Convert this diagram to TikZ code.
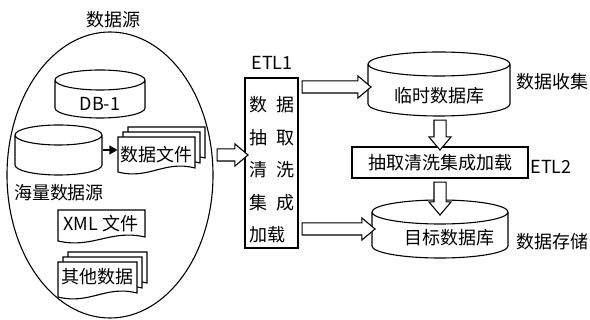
\documentclass[tikz,border=0pt]{standalone}
\usepackage{fontspec}
\setmainfont{Noto Sans CJK SC}
\usetikzlibrary{shapes.geometric,shapes.arrows,arrows.meta,calc}

\tikzset{
  txt/.style={font=\fontsize{18}{21}\selectfont, inner sep=0pt},
  box/.style={draw, inner sep=0pt},
  frame/.style={inner sep=0pt},
  fatarrow/.style={single arrow, draw, fill=white, inner xsep=0pt, inner ysep=5.5pt,
    minimum width=21pt, single arrow head extend=5pt, single arrow tip angle=80},
}

% cylinder: x1, x2, ytop, ybot, r (pixel values, y downwards)
\newcommand{\cyl}[5]{%
  \draw ({#1},{-(#3)-(#5)}) -- ({#1},{-(#4)+(#5)})
    arc[start angle=180,end angle=360,x radius={((#2)-(#1))/2},y radius={#5}]
    -- ({#2},{-(#3)-(#5)})
    arc[start angle=0,end angle=180,x radius={((#2)-(#1))/2},y radius={#5}]
    arc[start angle=180,end angle=360,x radius={((#2)-(#1))/2},y radius={#5}];}

% document sheet: x1, ytop, x2, ybot
\newcommand{\docshape}[4]{%
  \draw[fill=white] ({#1},{-(#2)}) -- ({#3},{-(#2)}) -- ({#3},{-(#4)+4})
    .. controls ({(#1)+0.6*((#3)-(#1))},{-(#4)+12}) and ({(#1)+0.4*((#3)-(#1))},{-(#4)-8}) ..
    ({#1},{-(#4)}) -- cycle;}
\newcommand{\docstack}[4]{%
  \docshape{#1+10}{#2-10}{#3+10}{#4-10}%
  \docshape{#1+5}{#2-5}{#3+5}{#4-5}%
  \docshape{#1}{#2}{#3}{#4}}

% hollow arrow between two points, rotated
\newcommand{\fatarr}[3]{%
  \path let \p1=#1, \p2=#2, \n1={veclen(\x2-\x1,\y2-\y1)} in
    node[fatarrow, minimum height=\n1, rotate=#3] at ({(\x1+\x2)/2},{(\y1+\y2)/2}) {};}

\begin{document}
\begin{tikzpicture}[x=1pt,y=1pt,line width=1.1pt]
\useasboundingbox (0,0) rectangle (590,-320);

% data sources
\node[txt] (srctitle) at (113,-20) {数据源};
\node[draw, ellipse, inner sep=0pt, minimum width=206pt, minimum height=286pt] (source) at (110,-175) {};

\cyl{55}{145}{70}{118}{10}
\node[txt] (db1) at (100,-104) {DB-1};

\cyl{15}{102}{125}{175}{10}
\node[frame, minimum width=87pt, minimum height=50pt] (bigdb) at (58.5,-150) {};

\docstack{118}{137}{195}{172}
\node[txt, minimum width=77pt] (datafile) at (156.5,-155) {数据文件};
\draw[-{Triangle[length=8pt,width=9pt]}] (bigdb.east) -- (bigdb.east -| datafile.west);

\node[txt] (massive) at (59,-193) {海量数据源};

\docshape{58}{210}{145}{241}
\node[txt] (xmlfile) at (101,-224) {XML 文件};

\docstack{58}{262}{137}{297}
\node[txt] (otherdata) at (97,-277) {其他数据};

% ETL1
\node[box, minimum width=53pt, minimum height=170pt] (etl1) at (271.5,-163) {};
\node[txt] (etl1lbl) at (272,-63) {ETL1};
\node[txt, align=left, font=\fontsize{18}{32.5}\selectfont] (etl1txt) at (271.5,-170)
  {数\hspace{9pt}据\\抽\hspace{9pt}取\\清\hspace{9pt}洗\\集\hspace{9pt}成\\加载};

% targets
\cyl{368}{510}{52}{116}{12}
\node[frame, minimum width=142pt, minimum height=64pt] (tmpdb) at (439,-84) {};
\node[txt] (tmpdblbl) at (439,-96) {临时数据库};
\node[txt] (collect) at (552,-82) {数据收集};

\node[box, txt, minimum width=176pt, minimum height=31pt] (etl2) at (440,-162.5) {抽取清洗集成加载};
\node[txt] (etl2lbl) at (551,-167) {ETL2};

\cyl{372}{508}{200}{258}{12}
\node[frame, minimum width=136pt, minimum height=58pt] (targetdb) at (440,-229) {};
\node[txt] (targetdblbl) at (449,-238) {目标数据库};
\node[txt] (store) at (552,-242) {数据存储};

% hollow arrows
\coordinate (tmpin) at ($(tmpdb.west)+(0,-3)$);
\coordinate (tgtin) at ($(targetdb.north)+(0,-12)$);
\fatarr{(datafile.east -| source.east)}{(datafile.east -| etl1.west)}{0}
\fatarr{(etl1.east |- tmpin)}{(tmpin)}{0}
\fatarr{(etl1.east |- targetdb.west)}{(targetdb.west)}{0}
\fatarr{(etl2.north |- tmpdb.south)}{(etl2.north)}{-90}
\fatarr{(etl2.south)}{(etl2.south |- tgtin)}{-90}
\end{tikzpicture}
\end{document}
